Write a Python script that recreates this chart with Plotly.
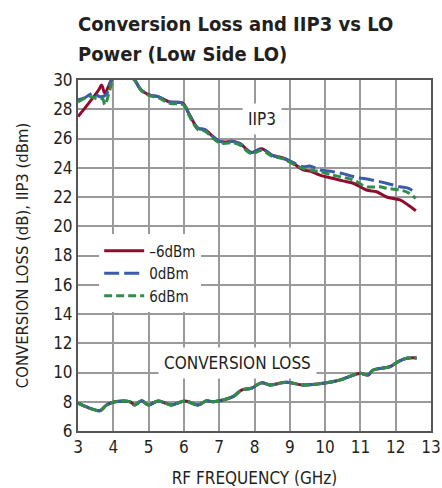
import plotly.graph_objects as go

# IIP3 data (GHz, dBm)
iip3_m6_f = [3.0, 3.3, 3.58, 3.67, 3.76, 3.95, 4.2, 4.45, 4.61, 4.8, 5.04, 5.27, 5.6, 5.98, 6.12, 6.4, 6.59, 7.02, 7.4, 7.59, 7.92, 8.2, 8.49, 8.82, 9.1, 9.38, 9.6, 9.85, 10.22, 10.5, 10.8, 11.17, 11.46, 11.74, 12.12, 12.35, 12.57]
iip3_m6_v = [27.5, 28.4, 29.3, 29.65, 29.1, 30.0, 30.6, 30.6, 30.0, 29.3, 28.97, 28.86, 28.5, 28.4, 27.8, 26.7, 26.6, 25.8, 25.8, 25.65, 25.05, 25.3, 24.87, 24.65, 24.3, 23.85, 23.75, 23.5, 23.28, 23.1, 22.94, 22.48, 22.36, 22.0, 21.8, 21.45, 21.06]

iip3_0_f = [3.0, 3.2, 3.43, 3.62, 3.8, 3.95, 4.2, 4.45, 4.61, 4.8, 5.04, 5.27, 5.6, 5.98, 6.12, 6.4, 6.59, 7.02, 7.4, 7.59, 7.92, 8.2, 8.49, 8.82, 9.1, 9.38, 9.57, 9.85, 10.22, 10.5, 10.8, 11.32, 11.74, 12.12, 12.35, 12.57]
iip3_0_v = [28.65, 28.8, 29.1, 28.86, 29.0, 30.0, 30.6, 30.6, 30.0, 29.3, 28.97, 28.86, 28.5, 28.4, 27.8, 26.7, 26.6, 25.8, 25.8, 25.65, 25.05, 25.3, 24.87, 24.65, 24.35, 24.07, 24.12, 23.85, 23.73, 23.6, 23.4, 23.16, 22.94, 22.7, 22.6, 22.25]

iip3_6_f = [3.0, 3.34, 3.55, 3.7, 3.76, 3.9, 4.05, 4.3, 4.61, 4.8, 5.04, 5.27, 5.6, 5.98, 6.12, 6.4, 6.59, 7.02, 7.4, 7.59, 7.92, 8.2, 8.49, 8.82, 9.1, 9.38, 9.85, 10.22, 10.5, 10.8, 11.17, 11.55, 11.74, 12.12, 12.35, 12.57]
iip3_6_v = [28.5, 28.86, 28.7, 28.7, 28.3, 29.3, 30.4, 30.6, 29.95, 29.25, 28.92, 28.8, 28.4, 28.3, 27.7, 26.6, 26.5, 25.7, 25.7, 25.55, 24.95, 25.2, 24.8, 24.6, 24.25, 23.95, 23.73, 23.5, 23.35, 23.16, 22.7, 22.7, 22.6, 22.48, 22.3, 21.9]

# Conversion loss data (GHz, dB)
cl_f = [3.0, 3.34, 3.62, 3.81, 4.05, 4.47, 4.61, 4.8, 4.99, 5.27, 5.65, 6.03, 6.4, 6.64, 6.82, 7.39, 7.63, 7.91, 8.2, 8.43, 8.9, 9.38, 9.94, 10.42, 10.98, 11.22, 11.36, 11.84, 12.07, 12.31, 12.59]
cl_v = [7.9, 7.55, 7.39, 7.78, 8.0, 8.0, 7.78, 8.07, 7.78, 8.05, 7.78, 8.05, 7.78, 8.07, 8.0, 8.35, 8.8, 8.92, 9.3, 9.15, 9.33, 9.15, 9.26, 9.49, 9.94, 9.83, 10.17, 10.4, 10.74, 10.97, 11.0]

x_ticks = [3, 4, 5, 6, 7, 8, 9, 10, 11, 12, 13]
y_ticks = [6, 8, 10, 12, 14, 16, 18, 20, 22, 24, 26, 28, 30]

title_lines = ["Conversion Loss and IIP3 vs LO", "Power (Low Side LO)"]

RED = "#8E0C2E"
BLUE = "#3B5CAA"
GREEN = "#2F8D4A"
FONT = "DejaVu Sans Condensed, Liberation Sans Narrow, sans-serif"

PLOT_H = 488 - 80 - 57

fig = go.Figure()
# Conversion loss curves (overlapping)
fig.add_trace(go.Scatter(x=cl_f, y=cl_v, mode="lines", line=dict(color=RED, width=3, shape="spline"), showlegend=False))
fig.add_trace(go.Scatter(x=cl_f, y=cl_v, mode="lines", line=dict(color=BLUE, width=3, dash="15px,5px", shape="spline"), showlegend=False))
fig.add_trace(go.Scatter(x=cl_f, y=cl_v, mode="lines", line=dict(color=GREEN, width=3, dash="9px,3px", shape="spline"), showlegend=False))

# IIP3 curves
fig.add_trace(go.Scatter(x=iip3_m6_f, y=iip3_m6_v, mode="lines", name="–6dBm", line=dict(color=RED, width=3, shape="spline")))
fig.add_trace(go.Scatter(x=iip3_0_f, y=iip3_0_v, mode="lines", name="0dBm", line=dict(color=BLUE, width=3, dash="15px,5px", shape="spline")))
fig.add_trace(go.Scatter(x=iip3_6_f, y=iip3_6_v, mode="lines", name="6dBm", line=dict(color=GREEN, width=3, dash="8px,4px", shape="spline")))

title_annots = [
    dict(x=-0.005, y=1 + (80 - top) / PLOT_H, xref="paper", yref="paper",
         text="<b>" + t + "</b>", showarrow=False, xanchor="left", yanchor="top",
         font=dict(family=FONT, size=20, color="#231F20"))
    for t, top in zip(title_lines, [10, 40])
]

fig.update_layout(
    width=442, height=488,
    margin=dict(l=78, r=11, t=80, b=57),
    paper_bgcolor="white", plot_bgcolor="white",
    font=dict(family=FONT, size=16, color="#231F20"),
    xaxis=dict(range=[3, 13], tickvals=x_ticks, ticktext=[str(v) for v in x_ticks],
               automargin=False,
               showgrid=True, gridcolor="#9A9A9A", gridwidth=1.5,
               showline=True, linecolor="#555555", linewidth=2, mirror=True,
               ticks="", zeroline=False, tickfont=dict(size=17),
               title=dict(text="RF FREQUENCY (GHz)", font=dict(size=17), standoff=17)),
    yaxis=dict(range=[6, 30], tickvals=y_ticks, ticktext=[str(v) for v in y_ticks],
               automargin=False,
               showgrid=True, gridcolor="#9A9A9A", gridwidth=1.5,
               showline=True, linecolor="#555555", linewidth=2, mirror=True,
               ticks="", zeroline=False, tickfont=dict(size=17),
               title=dict(text="CONVERSION LOSS (dB), IIP3 (dBm)", font=dict(size=16.5), standoff=20)),
    legend=dict(x=0.06, y=0.56, xanchor="left", yanchor="top",
                bgcolor="white", font=dict(size=15), tracegroupgap=0,
                itemwidth=40),
    annotations=title_annots + [
        dict(x=8.21, y=27.33, xref="x", yref="y", text="IIP3", showarrow=False,
             bgcolor="white", borderpad=5, font=dict(size=17), xanchor="center", yanchor="middle"),
        dict(x=7.53, y=10.65, xref="x", yref="y", text="CONVERSION LOSS", showarrow=False,
             bgcolor="white", borderpad=5, font=dict(size=17), xanchor="center", yanchor="middle"),
    ],
)

fig.write_html("out.html", config={"displayModeBar": False},
               post_script="document.body.style.margin='0';")
